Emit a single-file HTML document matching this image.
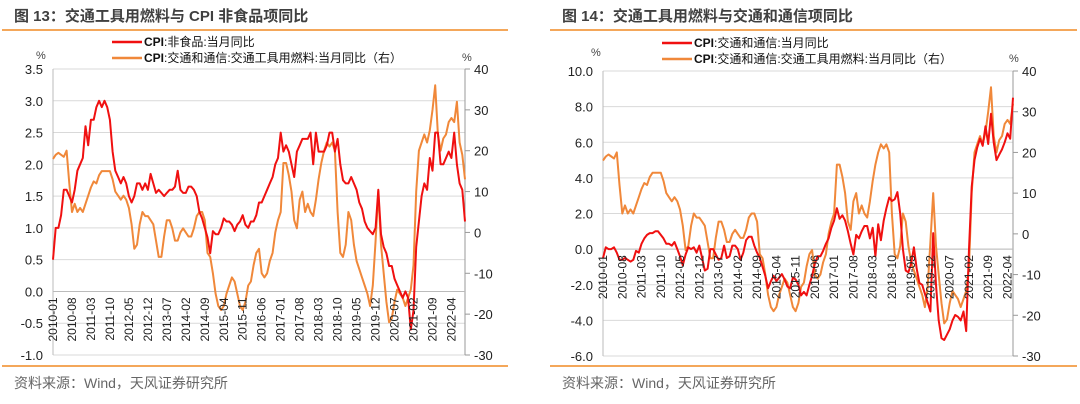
<!DOCTYPE html>
<html><head><meta charset="utf-8"><style>
body{margin:0;background:#fff;width:1080px;height:404px;overflow:hidden;font-family:"Liberation Sans","Noto Sans CJK SC",sans-serif}
svg{position:absolute;left:0;top:0}
</style></head><body>
<svg id="c" width="1080" height="404"></svg>
<script>
const months=[];for(let y=2010;y<=2022;y++)for(let m=1;m<=12;m++)months.push(y+'-'+String(m).padStart(2,'0'));
const datesA=months.slice(0,153);
const datesB=months.slice(0,150);
const tickEvery=7;
const leftTicksA=[3.5,3.0,2.5,2.0,1.5,1.0,0.5,0.0,-0.5,-1.0];
const rightTicks=[40,30,20,10,0,-10,-20,-30];
const leftTicksB=[10,8,6,4,2,0,-2,-4,-6];
const nonFood=[0.5,1.0,1.0,1.2,1.6,1.6,1.5,1.4,1.6,1.9,2.0,2.1,
2.6,2.3,2.7,2.7,2.9,3.0,2.9,3.0,2.9,2.7,2.2,1.9,
1.8,1.7,1.8,1.7,1.5,1.4,1.5,1.7,1.7,1.6,1.7,1.6,
1.85,1.7,1.55,1.6,1.55,1.5,1.55,1.6,1.6,1.65,1.9,1.6,
1.55,1.55,1.65,1.65,1.6,1.5,1.25,1.15,1.0,0.85,0.6,0.95,
0.9,0.9,1.0,1.15,1.1,1.1,1.05,0.95,1.05,1.1,1.2,1.05,
1.0,1.1,1.1,1.2,1.4,1.4,1.5,1.6,1.7,1.8,2.0,2.1,
2.5,2.2,2.3,2.2,2.0,1.8,2.2,2.3,2.4,2.4,2.4,2.5,
2.0,2.5,2.2,2.2,2.2,2.3,2.5,2.5,2.2,2.4,2.0,1.75,
1.7,1.7,1.8,1.7,1.6,1.4,1.3,1.1,1.0,0.95,0.9,1.0,
1.6,0.9,0.7,0.6,0.4,0.4,0.2,0.1,0.0,-0.1,0.0,-0.1,
-0.6,-0.3,0.7,1.1,1.5,1.7,1.6,2.1,1.9,2.5,2.5,2.0,
2.0,2.1,2.2,2.1,2.5,2.0,1.7,1.6,1.1];
const fuel=[18,19,19.5,19,18.5,20,12,5,7,5,6,5,
7,9,11,12.5,12,14,15,15,15,15,13,10,
9,8,9,8,6,2,-4,-3,2,5,4,4,
3,2,-2,-6,-6,-1,3,3,1,-2,-2,0,
1,0,-1,-1,1,4,5,5,3,-5,-6,-10,
-15,-18,-19,-18,-15,-13,-11,-12,-15,-18,-19,-17,
-13,-12,-8,-5,-4,-10,-11,-10,-7,-5,0,3,
5,17,17,14,10,3,1,8,10,5,7,5,
4,8,13,17,20,22,21,22,20,5,-5,-6,
-3,5,3,-3,-7,-9,-11,-13,-15,-18,-13,-2,
10,-3,-10,-17,-22,-21,-17,-14,-15,-16,-18,-16,
-14,-8,10,20,22,24,22,25,30,36,24,20,
23,24,27,28,27,32,22,19,13];
const transport=[-0.5,0.1,0.0,0.0,0.1,-0.2,-0.6,-0.6,-0.5,-0.6,-0.7,-0.6,
-0.1,-0.2,0.3,0.6,0.8,0.9,0.9,1.0,1.0,0.8,0.6,0.3,
0.3,0.2,0.4,0.0,-0.4,-0.9,-0.3,0.1,0.0,0.1,-0.2,0.2,
-0.5,-1.2,-1.1,0.0,0.0,-0.3,-0.6,-0.5,0.2,-0.5,-0.4,0.2,
0.2,0.0,-0.6,-0.2,0.5,0.7,0.7,0.2,-0.2,-0.5,-1.0,-1.5,
-2.2,-1.8,-1.5,-1.8,-1.6,-1.4,-1.7,-2.1,-2.2,-1.6,-1.7,-2.0,
-2.6,-2.4,-2.6,-2.0,-1.5,-0.8,-0.4,-0.4,-0.1,0.3,0.6,1.2,
1.6,2.3,1.7,1.9,1.6,1.0,0.3,-0.3,0.8,0.6,1.0,1.3,
1.3,0.6,1.2,-0.4,1.4,0.5,1.6,2.3,2.9,2.7,2.8,3.2,
2.0,0.0,-1.2,-1.3,-0.8,0.1,-1.1,-1.9,-2.0,-2.5,-3.0,-3.5,
0.9,-2.0,-4.0,-5.0,-5.1,-4.8,-4.5,-4.0,-3.7,-3.8,-4.0,-3.5,
-4.6,0.0,3.5,5.0,5.7,6.2,5.8,6.9,5.9,7.6,6.0,5.0,
5.3,5.6,6.0,6.5,6.2,8.5];

const svg=document.getElementById('c');
const NS='http://www.w3.org/2000/svg';
function mk(tag,attrs,parent){const e=document.createElementNS(NS,tag);for(const k in attrs)e.setAttribute(k,attrs[k]);(parent||svg).appendChild(e);return e;}
function txt(s,x,y,attrs,parent){const e=mk('text',Object.assign({x:x,y:y,'font-size':12,fill:'#222'},attrs),parent);e.textContent=s;return e;}

function chart(o){
  const dates=o.dates;
  const g=mk('g',{});
  
  
  const t=txt(o.title,o.tx,21,{'font-size':15,'font-weight':'bold',fill:'#404040'},g);
  
  
  const l1=mk('line',{x1:o.bx0,x2:o.bx1,y1:30,y2:30,stroke:'#f08a24','stroke-width':1.5},g);
  
  
  const l2=mk('line',{x1:o.bx0,x2:o.bx1,y1:366,y2:366,stroke:'#f08a24','stroke-width':1.5},g);
  
  
  const src=txt('资料来源：Wind，天风证券研究所',o.tx,388,{'font-size':14,fill:'#666'},g);
  
  
  const X=i=>o.x0+(o.x1-o.x0)*i/(dates.length-1);
  const YL=v=>o.y0+(o.lmax-v)/(o.lmax-o.lmin)*(o.y1-o.y0);
  const YR=v=>o.y0+(40-v)/70*(o.y1-o.y0);
  o.lticks.forEach(v=>{
    const gl=mk('line',{x1:o.x0,x2:o.x1,y1:YL(v),y2:YL(v),stroke:'#d9d9d9','stroke-width':1},g);
    
    
    const lb=txt(v.toFixed(1),o.x0-10,YL(v)+5,{'text-anchor':'end','font-size':13},g);
    
    
  });
  rightTicks.forEach(v=>{
    const tk=mk('line',{x1:o.x1,x2:o.x1+5,y1:YR(v),y2:YR(v),stroke:'#999'},g);
    
    
    const lb=txt(String(v),o.x1+9,YR(v)+5,{'font-size':13},g);
    
    
  });
  const la=mk('line',{x1:o.x0,x2:o.x0,y1:o.y0,y2:o.y1,stroke:'#bbb'},g);
  
  
  const ra=mk('line',{x1:o.x1,x2:o.x1,y1:o.y0,y2:o.y1,stroke:'#999'},g);
  
  
  const xa=mk('line',{x1:o.x0,x2:o.x1,y1:YL(0),y2:YL(0),stroke:'#bbb'},g);
  
  
  const p1=txt('%',o.px0,o.py0,{'font-size':11,fill:'#444'},g);
  
  
  const p2=txt('%',o.px1,o.py1,{'font-size':11,fill:'#444'},g);
  
  
  function line(vals,Y,color,name){
    const d=vals.slice(0,dates.length).map((v,i)=>(i?'L':'M')+X(i).toFixed(1)+' '+Y(v).toFixed(1)).join(' ');
    const p=mk('path',{d:d,fill:'none',stroke:color,'stroke-width':2,'stroke-linejoin':'round'},g);
    
    
  }
  line(fuel,YR,'#f0883a','fuel-series-line');
  line(o.red,YL,'#f01010',o.redName);
  dates.forEach((d,i)=>{
    if(i%tickEvery) return;
    const x=X(i)+4, y=YL(0)+6;
    const lb=txt(d,x,y,{'font-size':12,'text-anchor':'end',transform:'rotate(-90 '+x+' '+y+')'},g);
    
    
  });
  [[o.leg1,o.ly],[o.leg2,o.ly+16]].forEach(([s,y],k)=>{
    const sw=mk('line',{x1:o.lx,x2:o.lx+30,y1:y-4,y2:y-4,stroke:k?'#f0883a':'#f01010','stroke-width':2.5},g);
    
    
    const lt=txt('',o.lx+32,y,{'font-size':12,fill:'#111'},g);
    
    
    const b=mk('tspan',{'font-weight':'bold'},lt);b.textContent='CPI';
    const r=mk('tspan',{},lt);r.textContent=s;
  });
}
chart({name:'chart-13',title:'图 13：交通工具用燃料与 CPI 非食品项同比',tx:14,bx0:2,bx1:508,dates:datesA,
  x0:53,x1:465,y0:69,y1:355,lmax:3.5,lmin:-1.0,lticks:leftTicksA,red:nonFood,redName:'nonfood-series-line',
  px0:36,py0:59,px1:462,py1:61,lx:112,ly:46,leg1:':非食品:当月同比',leg2:':交通和通信:交通工具用燃料:当月同比（右）'});
chart({name:'chart-14',title:'图 14：交通工具用燃料与交通和通信项同比',tx:562,bx0:550,bx1:1077,dates:datesB,
  x0:603,x1:1013,y0:71,y1:356,lmax:10,lmin:-6,lticks:leftTicksB,red:transport,redName:'transport-series-line',
  px0:591,py0:56,px1:1009,py1:62,lx:662,ly:47,leg1:':交通和通信:当月同比',leg2:':交通和通信:交通工具用燃料:当月同比（右）'});
</script>
</body></html>
